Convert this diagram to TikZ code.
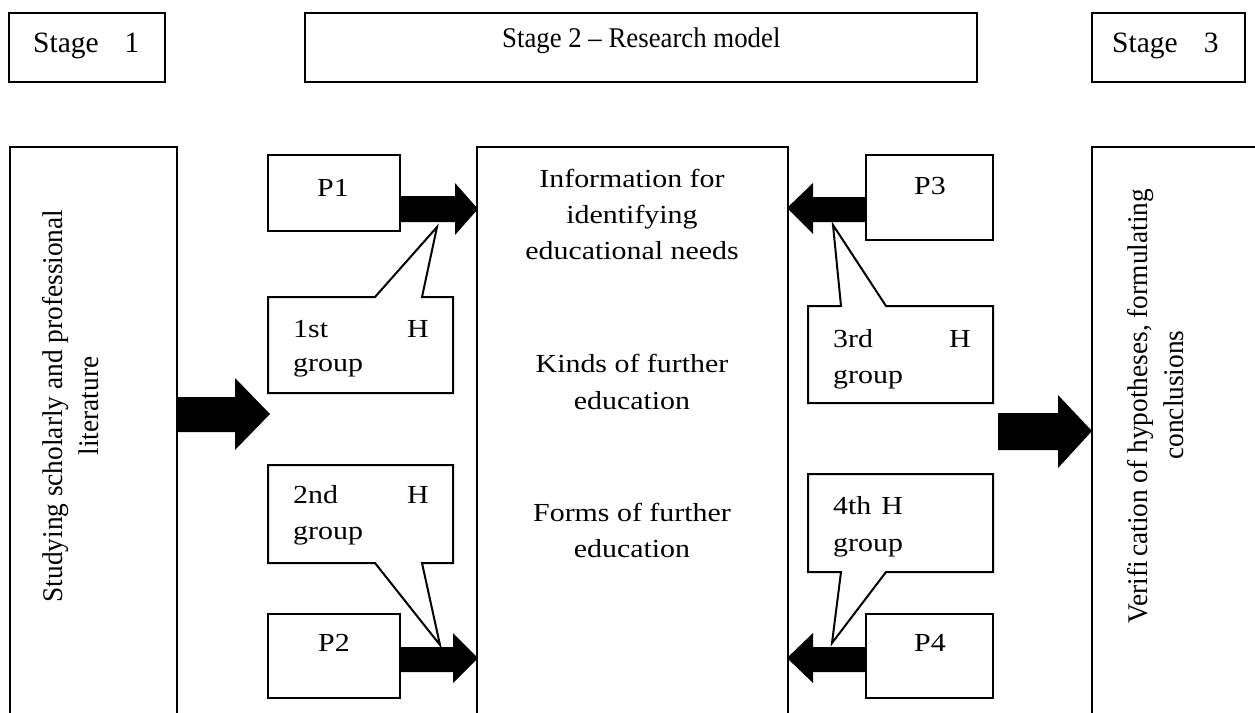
\documentclass[tikz,border=0pt]{standalone}
\usepackage{fontspec}
\setmainfont{Liberation Serif}
\newfontfamily\bodyf[FakeStretch=1.15]{Liberation Serif}
\newfontfamily\rotf[FakeStretch=0.96]{Liberation Serif}
\newfontfamily\headf{Liberation Serif}
\newfontfamily\headtwof[FakeStretch=0.94]{Liberation Serif}
\usetikzlibrary{fit}
\begin{document}
\begin{tikzpicture}[x=1pt,y=-1pt,
  box/.style={draw, line width=2.3pt, inner sep=0pt},
  txt/.style={inner sep=0pt, font=\bodyf\fontsize{26}{36}\selectfont},
  rtxt/.style={inner sep=0pt, rotate=90, anchor=base, font=\rotf\fontsize{28.5}{36}\selectfont},
  htxt/.style={inner sep=0pt, anchor=base west, font=\headf\fontsize{29.5}{36}\selectfont},
  blockarr/.style={fill=black},
  callout/.style={draw, line width=2pt, fill=white, line join=miter}]
\clip (0,0) rectangle (1255,712);

% header boxes
\node[box, fit={(9,13) (165,82)}] (s1) {};
\node[box, fit={(305,13) (977,82)}] (s2) {};
\node[box, fit={(1092,13) (1245,82)}] (s3) {};
\node[htxt] (s1t) at (33,52) {Stage\hspace{26pt}1};
\node[inner sep=0pt, anchor=base west, font=\headtwof\fontsize{28.5}{36}\selectfont] (s2t) at (502,47) {Stage 2 – Research model};
\node[htxt] (s3t) at (1112,52) {Stage\hspace{26pt}3};

% big columns (open at the bottom)
\node[box, fit={(10,147) (177,740)}] (lit) {};
\node[box, fit={(477,147) (788,740)}] (model) {};
\node[box, fit={(1092,147) (1290,740)}] (ver) {};

\node[rtxt] (lit1) at (62,406) {Studying scholarly and professional};
\node[rtxt] (lit2) at (98,406) {literature};
\node[rtxt] (ver1) at (1147,406) {Verifi\kern4pt cation of hypotheses, formulating};
\node[rtxt] (ver2) at (1183,395) {conclusions};

% centre texts
\node[txt, anchor=base] (i1) at (632,187) {Information for};
\node[txt, anchor=base] (i2) at (632,223) {identifying};
\node[txt, anchor=base] (i3) at (632,259) {educational needs};
\node[txt, anchor=base] (k1) at (632,372) {Kinds of further};
\node[txt, anchor=base] (k2) at (632,409) {education};
\node[txt, anchor=base] (f1) at (632,521) {Forms of further};
\node[txt, anchor=base] (f2) at (632,557) {education};

% P boxes
\node[box, fit={(268,155) (400,231)}] (p1) {};
\node[box, fit={(268,614) (400,698)}] (p2) {};
\node[box, fit={(866,155) (993,240)}] (p3) {};
\node[box, fit={(866,614) (993,698)}] (p4) {};
\node[txt, anchor=base] (p1t) at (333,196) {P1};
\node[txt, anchor=base] (p2t) at (334,651) {P2};
\node[txt, anchor=base] (p3t) at (930,194) {P3};
\node[txt, anchor=base] (p4t) at (930,651) {P4};

% block arrows
\fill[blockarr] (400,196) -- (455,196) -- (455,183) -- (478,209) -- (455,235) -- (455,222) -- (400,222) -- cycle;
\fill[blockarr] (400,647) -- (453,647) -- (453,633) -- (478,658) -- (453,683) -- (453,672) -- (400,672) -- cycle;
\fill[blockarr] (866,197) -- (813,197) -- (813,183) -- (787,208) -- (813,234) -- (813,222) -- (866,222) -- cycle;
\fill[blockarr] (866,647) -- (813,647) -- (813,633) -- (787,658) -- (813,683) -- (813,672) -- (866,672) -- cycle;
\fill[blockarr] (177,397) -- (235,397) -- (235,378) -- (270,414) -- (235,450) -- (235,432) -- (177,432) -- cycle;
\fill[blockarr] (998,413) -- (1058,413) -- (1058,395) -- (1092,431) -- (1058,468) -- (1058,450) -- (998,450) -- cycle;

% callouts
\draw[callout] (268,297) -- (375,297) -- (437,227) -- (422,297) -- (453,297) -- (453,393) -- (268,393) -- cycle;
\draw[callout] (268,465) -- (453,465) -- (453,563) -- (422,563) -- (440,645) -- (375,563) -- (268,563) -- cycle;
\draw[callout] (808,306) -- (841,306) -- (833,225) -- (886,306) -- (993,306) -- (993,403) -- (808,403) -- cycle;
\draw[callout] (808,474) -- (993,474) -- (993,572) -- (886,572) -- (832,643) -- (841,572) -- (808,572) -- cycle;

\node[txt, anchor=base west] (h1a) at (293,337) {1st};
\node[txt, anchor=base east] (h1b) at (429,337) {H};
\node[txt, anchor=base west] (h1c) at (293,371) {group};
\node[txt, anchor=base west] (h2a) at (293,503) {2nd};
\node[txt, anchor=base east] (h2b) at (429,503) {H};
\node[txt, anchor=base west] (h2c) at (293,539) {group};
\node[txt, anchor=base west] (h3a) at (833,347) {3rd};
\node[txt, anchor=base east] (h3b) at (971,347) {H};
\node[txt, anchor=base west] (h3c) at (833,383) {group};
\node[txt, anchor=base west] (h4a) at (833,514) {4th\hspace{10pt}H};
\node[txt, anchor=base west] (h4c) at (833,551) {group};
\end{tikzpicture}
\end{document}
